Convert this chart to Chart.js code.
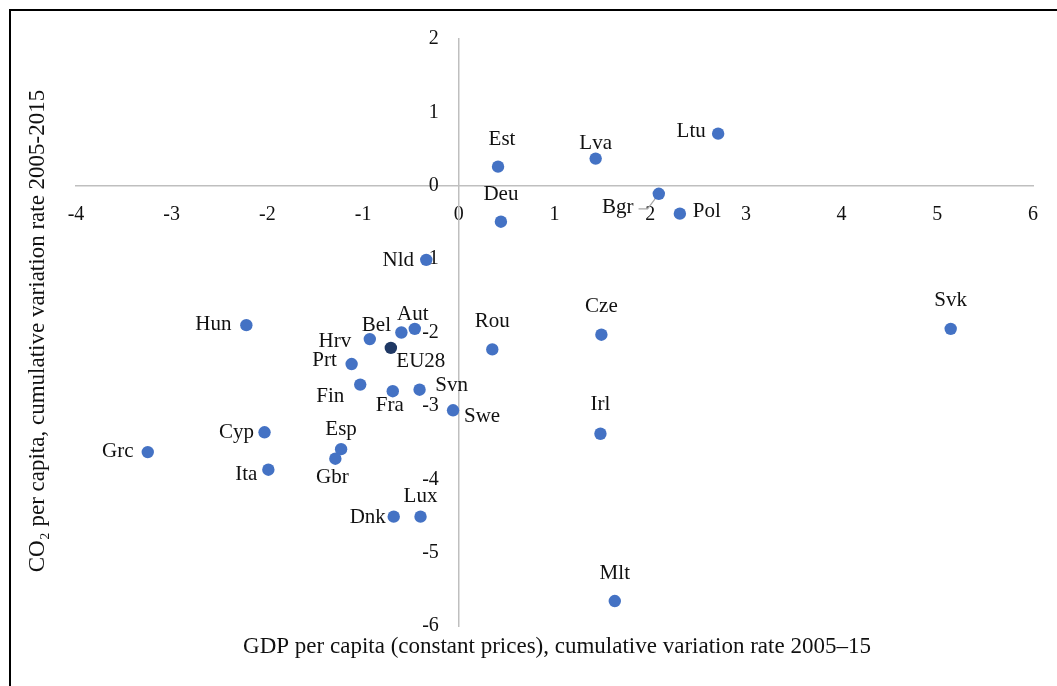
<!DOCTYPE html>
<html><head><meta charset="utf-8">
<script src="https://cdn.jsdelivr.net/npm/chart.js@4.4.1/dist/chart.umd.min.js"></script>
<style>
html,body{margin:0;padding:0;background:#fff;overflow:hidden;width:1057px;height:686px}
#frame{position:absolute;left:9px;top:9px;width:1300px;height:1000px;border:2px solid #000;box-sizing:border-box}
#c{position:absolute;left:0;top:0}
</style></head><body>
<div id="frame"></div>
<canvas id="c" width="1057" height="686"></canvas>
<script>
// ---- data ----
const countries = ['Est','Deu','Lva','Ltu','Bgr','Pol','Nld','Hun','Bel','Aut','Hrv','Prt','Rou','Fin','Fra','Svn','Swe','Cyp','Esp','Grc','Gbr','Ita','Dnk','Lux','Cze','Svk','Irl','Mlt'];
const gdpGrowth = [0.41,0.44,1.43,2.71,2.09,2.31,-0.34,-2.22,-0.60,-0.46,-0.93,-1.12,0.35,-1.03,-0.69,-0.41,-0.06,-2.03,-1.23,-3.25,-1.29,-1.99,-0.68,-0.40,1.49,5.14,1.48,1.63];
const co2Growth = [0.26,-0.49,0.37,0.71,-0.11,-0.38,-1.01,-1.90,-2.00,-1.95,-2.09,-2.43,-2.23,-2.71,-2.80,-2.78,-3.06,-3.36,-3.59,-3.63,-3.72,-3.87,-4.51,-4.51,-2.03,-1.95,-3.38,-5.66];
const euNames = ['EU28'];
const euGdp = [-0.71];
const euCo2 = [-2.21];
const xTickRange = [-4, 6];
const yTickRange = [-6, 2];
const xTitle = 'GDP per capita (constant prices), cumulative variation rate 2005\u201315';
const yTitle = 'CO\u2082 per capita, cumulative variation rate 2005-2015';

// ---- label placement (styling) ----
const labelOffsets = {
  Est:[4,-27], Deu:[0,-27], Lva:[0,-15], Ltu:[-27,-2], Bgr:[-41,14], Pol:[27,-2],
  Nld:[-28,1], Hun:[-33,-1], Aut:[-2,-14], Bel:[-25,-7], Hrv:[-35,2], EU28:[30,14],
  Prt:[-27,-4], Rou:[0,-28], Fin:[-30,12], Fra:[-3,14], Svn:[32,-4], Swe:[29,6],
  Cyp:[-28,0], Esp:[0,-20], Grc:[-30,-1], Ita:[-22,5], Gbr:[-3,19], Lux:[0,-20],
  Dnk:[-26,1], Cze:[0,-28], Svk:[0,-28], Irl:[0,-29], Mlt:[0,-28]
};
const leaderLines = ['Bgr'];

const FONT = '"Liberation Serif", "Times New Roman", serif';
const TXT = '#111';

const labelPlugin = {
  id: 'pointLabels',
  beforeDatasetsDraw(chart) {
    const ctx = chart.ctx;
    ctx.save();
    ctx.font = '21px ' + FONT;
    ctx.strokeStyle = '#a6a6a6';
    ctx.lineWidth = 1.2;
    chart.data.datasets.forEach((ds, di) => {
      const meta = chart.getDatasetMeta(di);
      meta.data.forEach((pt, i) => {
        const name = ds.names[i];
        if (!leaderLines.includes(name)) return;
        const off = labelOffsets[name];
        const w = ctx.measureText(name).width;
        const lx = pt.x + off[0] + w / 2 + 5, ly = pt.y + off[1] + 1;
        ctx.beginPath();
        ctx.moveTo(lx, ly);
        ctx.lineTo(lx + 9, ly);
        ctx.lineTo(pt.x, pt.y);
        ctx.stroke();
      });
    });
    ctx.restore();
  },
  afterDatasetsDraw(chart) {
    const ctx = chart.ctx;
    ctx.save();
    ctx.font = '21px ' + FONT;
    ctx.fillStyle = TXT;
    ctx.textAlign = 'center';
    ctx.textBaseline = 'middle';
    chart.data.datasets.forEach((ds, di) => {
      const meta = chart.getDatasetMeta(di);
      meta.data.forEach((pt, i) => {
        const name = ds.names[i];
        const off = labelOffsets[name] || [0, -25];
        ctx.fillText(name, pt.x + off[0], pt.y + off[1]);
      });
    });
    ctx.restore();
  },
  afterDraw(chart) {
    const ctx = chart.ctx, a = chart.chartArea;
    ctx.save();
    ctx.font = '23px ' + FONT;
    ctx.fillStyle = TXT;
    ctx.textAlign = 'center';
    ctx.textBaseline = 'middle';
    ctx.fillText(xTitle, a.left + 481, a.bottom + 21);
    ctx.translate(a.left - 38, a.top + 292);
    ctx.rotate(-Math.PI / 2);
    ctx.fillText(yTitle, 0, 0);
    ctx.restore();
  }
};

new Chart(document.getElementById('c'), {
  type: 'scatter',
  data: {
    datasets: [
      {
        names: countries,
        data: countries.map((c, i) => ({x: gdpGrowth[i], y: co2Growth[i]})),
        backgroundColor: '#4472C4',
        borderColor: '#4472C4',
        borderWidth: 0,
        pointRadius: 6.2,
        pointHoverRadius: 6.2
      },
      {
        names: euNames,
        data: euNames.map((c, i) => ({x: euGdp[i], y: euCo2[i]})),
        backgroundColor: '#1F3864',
        borderColor: '#1F3864',
        borderWidth: 0,
        pointRadius: 6.2,
        pointHoverRadius: 6.2
      }
    ]
  },
  options: {
    responsive: false,
    animation: false,
    layout: { padding: { left: 76, right: 24, top: 39, bottom: 60 } },
    plugins: { legend: { display: false }, tooltip: { enabled: false } },
    scales: {
      x: {
        type: 'linear',
        position: { y: 0 },
        min: xTickRange[0], max: xTickRange[1],
        grid: { display: false, drawTicks: false },
        border: { display: true, color: '#bfbfbf', width: 1.5 },
        ticks: { stepSize: 1, padding: 17, color: TXT, font: { family: FONT, size: 20 }, maxRotation: 0 }
      },
      y: {
        type: 'linear',
        position: { x: 0 },
        min: yTickRange[0], max: yTickRange[1],
        grid: { display: false, drawTicks: false },
        border: { display: true, color: '#bfbfbf', width: 1.5 },
        ticks: { stepSize: 1, padding: 0, color: TXT, font: { family: FONT, size: 20 },
                 callback: v => v + '\u2003' }
      }
    }
  },
  plugins: [labelPlugin]
});
</script>
</body></html>
